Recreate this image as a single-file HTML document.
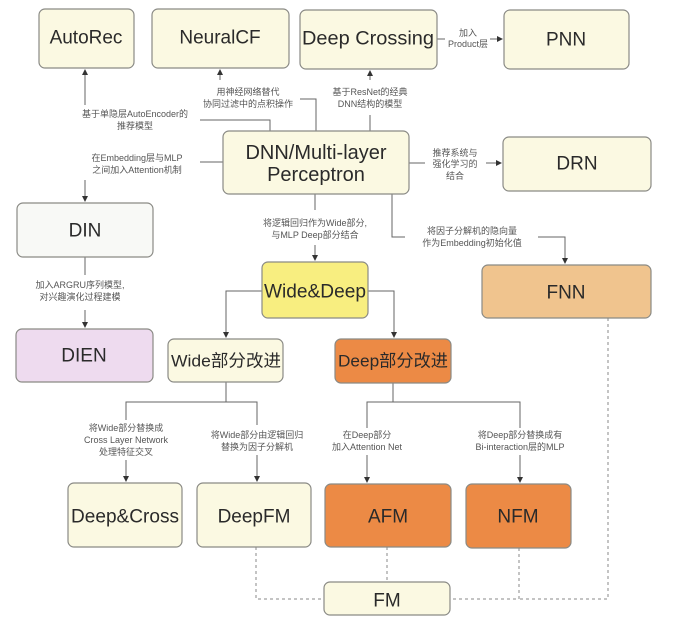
<!DOCTYPE html>
<html><head><meta charset="utf-8"><style>
html,body{margin:0;padding:0;background:#fff;}
svg{display:block;}
text{font-family:"Liberation Sans","Noto Sans CJK SC",sans-serif;fill:#333;}
.b{font-size:19px;text-anchor:middle;dominant-baseline:central;fill:#2a2a2a;}
.s{font-size:9px;text-anchor:middle;fill:#555;}
.l{stroke:#666;stroke-width:1;fill:none;}
.d{stroke:#888;stroke-width:1;fill:none;stroke-dasharray:3,3;}
.r{stroke:#8a8a85;stroke-width:1.2;}
</style></head><body>
<svg width="697" height="629" viewBox="0 0 697 629" xmlns="http://www.w3.org/2000/svg">
<defs><marker id="a" markerWidth="6" markerHeight="6" refX="5" refY="3" orient="auto"><path d="M0,0 L6,3 L0,6 z" fill="#333"/></marker></defs>

<g class="l">
<path d="M85,105 V70" marker-end="url(#a)"/>
<path d="M200,120 H270 V131"/>
<path d="M220,80 V70" marker-end="url(#a)"/>
<path d="M300,99 H316 V131"/>
<path d="M370,80 V71" marker-end="url(#a)"/>
<path d="M370,115 V131"/>
<path d="M437,39 H445"/>
<path d="M490,39 H502" marker-end="url(#a)"/>
<path d="M409,163 H425"/>
<path d="M486,163 H501" marker-end="url(#a)"/>
<path d="M223,162 H200"/>
<path d="M85,180 V201" marker-end="url(#a)"/>
<path d="M85,257 V275"/>
<path d="M85,310 V327" marker-end="url(#a)"/>
<path d="M315,194 V210"/>
<path d="M315,245 V260" marker-end="url(#a)"/>
<path d="M392,194 V237 H405"/>
<path d="M538,237 H565 V263" marker-end="url(#a)"/>
<path d="M262,291 H226 V337" marker-end="url(#a)"/>
<path d="M368,291 H394 V337" marker-end="url(#a)"/>
<path d="M226,382 V402 H126 V420"/>
<path d="M226,402 H257 V425"/>
<path d="M126,460 V481" marker-end="url(#a)"/>
<path d="M257,455 V481" marker-end="url(#a)"/>
<path d="M393,383 V402 H367 V428"/>
<path d="M393,402 H520 V428"/>
<path d="M367,455 V482" marker-end="url(#a)"/>
<path d="M520,455 V482" marker-end="url(#a)"/>
</g>
<g class="d">
<path d="M256,547 V599 H324"/>
<path d="M387,547 V582"/>
<path d="M519,548 V599 H450"/>
<path d="M608,318 V599 H519"/>
</g>

<g class="r">
<rect x="39" y="9" width="95" height="59" rx="6" fill="#fbf9e2"/>
<rect x="152" y="9" width="137" height="59" rx="6" fill="#fbf9e2"/>
<rect x="300" y="10" width="137" height="59" rx="6" fill="#fbf9e2"/>
<rect x="504" y="10" width="125" height="59" rx="6" fill="#fbf9e2"/>
<rect x="223" y="131" width="186" height="63" rx="6" fill="#fbf9e2"/>
<rect x="503" y="137" width="148" height="54" rx="6" fill="#fbf9e2"/>
<rect x="17" y="203" width="136" height="54" rx="6" fill="#f8f9f6"/>
<rect x="262" y="262" width="106" height="56" rx="6" fill="#f8ee80"/>
<rect x="482" y="265" width="169" height="53" rx="6" fill="#f0c48e"/>
<rect x="16" y="329" width="137" height="53" rx="6" fill="#eedbef"/>
<rect x="168" y="339" width="115" height="43" rx="6" fill="#fbf9e2"/>
<rect x="335" y="339" width="116" height="44" rx="6" fill="#ec8a45"/>
<rect x="68" y="483" width="114" height="64" rx="6" fill="#fbf9e2"/>
<rect x="197" y="483" width="114" height="64" rx="6" fill="#fbf9e2"/>
<rect x="325" y="484" width="126" height="63" rx="6" fill="#ec8a45"/>
<rect x="466" y="484" width="105" height="64" rx="6" fill="#ec8a45"/>
<rect x="324" y="582" width="126" height="33" rx="6" fill="#fbf9e2"/>
</g>

<text class="b" x="86" y="38">AutoRec</text>
<text class="b" x="220" y="38">NeuralCF</text>
<text class="b" x="368" y="39" textLength="132" lengthAdjust="spacingAndGlyphs">Deep Crossing</text>
<text class="b" x="566" y="40">PNN</text>
<text class="b" x="316" y="153" style="font-size:20px">DNN/Multi-layer</text>
<text class="b" x="316" y="175" style="font-size:20px">Perceptron</text>
<text class="b" x="577" y="164">DRN</text>
<text class="b" x="85" y="231">DIN</text>
<text class="b" x="315" y="292" textLength="102" lengthAdjust="spacingAndGlyphs">Wide&amp;Deep</text>
<text class="b" x="566" y="293">FNN</text>
<text class="b" x="84" y="356">DIEN</text>
<text class="b" x="226" y="361" style="font-size:17px" textLength="110" lengthAdjust="spacingAndGlyphs">Wide部分改进</text>
<text class="b" x="393" y="361" style="font-size:17px" textLength="110" lengthAdjust="spacingAndGlyphs">Deep部分改进</text>
<text class="b" x="125" y="517" textLength="108" lengthAdjust="spacingAndGlyphs">Deep&amp;Cross</text>
<text class="b" x="254" y="517">DeepFM</text>
<text class="b" x="388" y="517">AFM</text>
<text class="b" x="518" y="517">NFM</text>
<text class="b" x="387" y="601">FM</text>

<text class="s" x="135" y="117">基于单隐层AutoEncoder的</text>
<text class="s" x="135" y="129">推荐模型</text>
<text class="s" x="248" y="95">用神经网络替代</text>
<text class="s" x="248" y="107">协同过滤中的点积操作</text>
<text class="s" x="370" y="95">基于ResNet的经典</text>
<text class="s" x="370" y="107">DNN结构的模型</text>
<text class="s" x="468" y="36">加入</text>
<text class="s" x="468" y="47">Product层</text>
<text class="s" x="455" y="156">推荐系统与</text>
<text class="s" x="455" y="167">强化学习的</text>
<text class="s" x="455" y="179">结合</text>
<text class="s" x="137" y="161">在Embedding层与MLP</text>
<text class="s" x="137" y="173">之间加入Attention机制</text>
<text class="s" x="80" y="288">加入ARGRU序列模型,</text>
<text class="s" x="80" y="300">对兴趣演化过程建模</text>
<text class="s" x="315" y="226">将逻辑回归作为Wide部分,</text>
<text class="s" x="315" y="238">与MLP Deep部分结合</text>
<text class="s" x="472" y="234">将因子分解机的隐向量</text>
<text class="s" x="472" y="246">作为Embedding初始化值</text>
<text class="s" x="126" y="431">将Wide部分替换成</text>
<text class="s" x="126" y="443">Cross Layer Network</text>
<text class="s" x="126" y="455">处理特征交叉</text>
<text class="s" x="257" y="438">将Wide部分由逻辑回归</text>
<text class="s" x="257" y="450">替换为因子分解机</text>
<text class="s" x="367" y="438">在Deep部分</text>
<text class="s" x="367" y="450">加入Attention Net</text>
<text class="s" x="520" y="438">将Deep部分替换成有</text>
<text class="s" x="520" y="450">Bi-interaction层的MLP</text>
</svg>
</body></html>
